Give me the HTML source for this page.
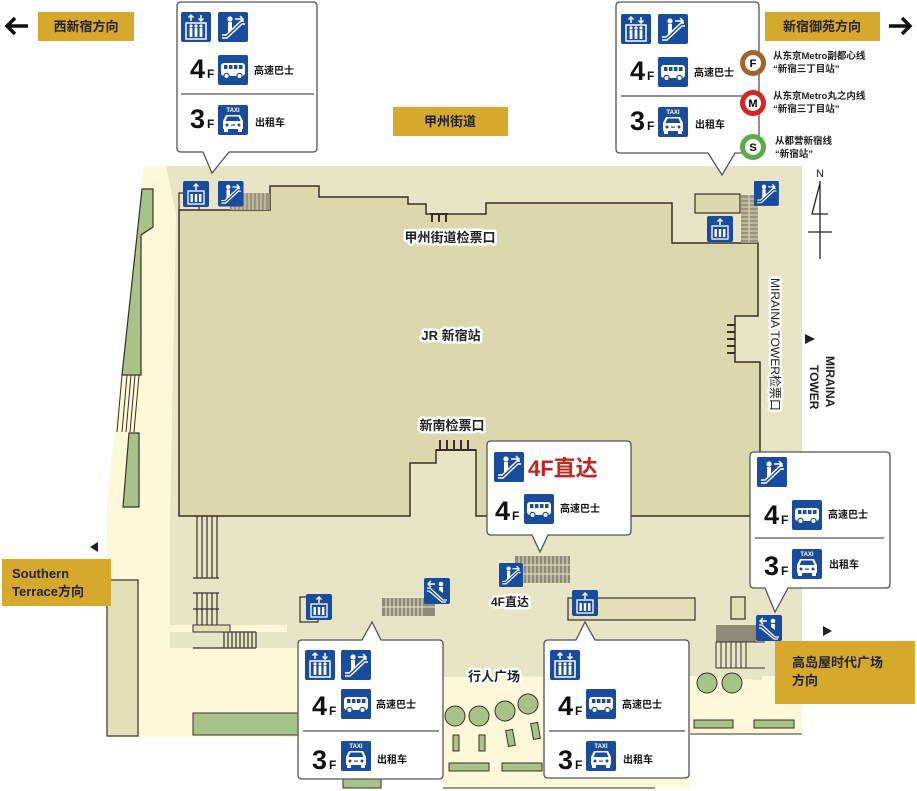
<!DOCTYPE html>
<html><head><meta charset="utf-8"><style>
html,body{margin:0;padding:0;background:#fff;width:917px;height:791px;overflow:hidden}
svg{display:block}
text{font-family:"Liberation Sans","Noto Sans CJK SC",sans-serif}
.b{font-weight:bold}
.halo{paint-order:stroke;stroke:#fff;stroke-width:5px;stroke-linejoin:round;font-weight:bold}
</style></head><body>
<svg width="917" height="791" viewBox="0 0 917 791" xmlns="http://www.w3.org/2000/svg">
<defs>
<g id="elev">
<rect x="0" y="0" width="30" height="30" rx="2" fill="#1a4c9e"/>
<rect x="5" y="11" width="20" height="16" fill="none" stroke="#fff" stroke-width="1.5"/>
<g fill="#fff"><circle cx="10" cy="14" r="1.6"/><circle cx="15" cy="14" r="1.6"/><circle cx="20" cy="14" r="1.6"/>
<rect x="8.6" y="16" width="2.8" height="9"/><rect x="13.6" y="16" width="2.8" height="9"/><rect x="18.6" y="16" width="2.8" height="9"/></g>
<path d="M10 9V3M7.5 5.5L10 3L12.5 5.5M20 3V9M17.5 6.5L20 9L22.5 6.5" stroke="#fff" stroke-width="1.5" fill="none"/>
</g>
<g id="elevup">
<rect x="0" y="0" width="26" height="26" rx="2" fill="#1a4c9e"/>
<rect x="5" y="10" width="16" height="13" fill="none" stroke="#fff" stroke-width="1.3"/>
<g fill="#fff"><rect x="7.5" y="13" width="2.4" height="8"/><rect x="11.8" y="13" width="2.4" height="8"/><rect x="16" y="13" width="2.4" height="8"/></g>
<path d="M13 9V3M10.5 5.5L13 3L15.5 5.5" stroke="#fff" stroke-width="1.4" fill="none"/>
</g>
<g id="esc">
<rect x="0" y="0" width="30" height="30" rx="2" fill="#1a4c9e"/>
<circle cx="12" cy="7" r="2.6" fill="#fff"/>
<path d="M10 10h4v7l-4 4z" fill="#fff"/>
<path d="M4 26h5l15-14h3M4 23h4l15-14h3" stroke="#fff" stroke-width="1.4" fill="none"/>
<path d="M17 7h8M22 4l3 3-3 3" stroke="#fff" stroke-width="1.5" fill="none"/>
</g>
<g id="escl">
<rect x="0" y="0" width="26" height="26" rx="2" fill="#1a4c9e"/>
<circle cx="17" cy="6" r="2.3" fill="#fff"/>
<path d="M15 9h4v6l-4-3z" fill="#fff"/>
<path d="M3 10h3l13 12h4M3 13h2l13 11h4" stroke="#fff" stroke-width="1.3" fill="none"/>
<path d="M11 6h-7M7 3l-3 3 3 3" stroke="#fff" stroke-width="1.4" fill="none"/>
</g>
<g id="bus">
<rect x="0" y="0" width="30" height="30" rx="2" fill="#1a4c9e"/>
<rect x="3" y="8" width="24" height="13" rx="3" fill="#fff"/>
<g fill="#1a4c9e"><rect x="6" y="10" width="3.5" height="4"/><rect x="11" y="10" width="3.5" height="4"/><rect x="16" y="10" width="3.5" height="4"/><rect x="21" y="10" width="3.5" height="4"/></g>
<circle cx="8.5" cy="21" r="2.6" fill="#fff" stroke="#1a4c9e" stroke-width="1.2"/><circle cx="21.5" cy="21" r="2.6" fill="#fff" stroke="#1a4c9e" stroke-width="1.2"/>
</g>
<g id="taxi">
<rect x="0" y="0" width="30" height="30" rx="2" fill="#1a4c9e"/>
<text x="15" y="7" font-size="6" fill="#fff" text-anchor="middle" class="b">TAXI</text>
<path d="M8 10h14l3 6v8H5v-8z" fill="#fff"/>
<path d="M9.5 11.5h11l2 4.5h-15z" fill="#1a4c9e"/>
<circle cx="9" cy="20" r="1.5" fill="#1a4c9e"/><circle cx="21" cy="20" r="1.5" fill="#1a4c9e"/>
<rect x="13" y="19.5" width="4" height="1.2" fill="#1a4c9e"/>
<rect x="6" y="24" width="4" height="3" fill="#fff"/><rect x="20" y="24" width="4" height="3" fill="#fff"/>
</g>
<g id="rows">
<text x="13" y="76" font-size="27" class="b" fill="#111">4</text><text x="30" y="76" font-size="12" class="b" fill="#111">F</text>
<use href="#bus" x="41" y="53"/>
<text x="77" y="72" font-size="10" class="b" fill="#111">高速巴士</text>
<line x1="4" y1="92" x2="137" y2="92" stroke="#555" stroke-width="1.2"/>
<text x="13" y="126" font-size="27" class="b" fill="#111">3</text><text x="30" y="126" font-size="12" class="b" fill="#111">F</text>
<use href="#taxi" x="41" y="103"/>
<text x="78" y="124" font-size="10" class="b" fill="#111">出租车</text>
</g>
</defs>

<polygon points="144,166 802,166 802,734 690,734 690,788 443,788 443,737 107,737 107,500" fill="#fdf9d8"/>
<polygon points="166,166 802,166 802,676 762,676 762,680 690,676 443,677 300,677 300,648 170,648 170,520 176,215" fill="#e8e4c6"/>
<rect x="170" y="625" width="117" height="7" fill="#fdf9d8"/>

<polygon points="179,210 270,210 270,186 319,186 319,197 408,197 408,204 426,204 426,214 486,214 486,203 672,203 672,243 758,243 758,316 735,316 735,362 760,362 760,516 476,516 476,450 436,450 436,463 410,463 410,516 179,516" fill="#dcd8ad" stroke="#3a3028" stroke-width="1.5"/>
<line x1="436" y1="450" x2="476" y2="450" stroke="#3a3028" stroke-width="2"/>
<g stroke="#3a3028" stroke-width="2"><line x1="430" y1="214" x2="448" y2="214"/><line x1="432" y1="214" x2="432" y2="222"/><line x1="439" y1="214" x2="439" y2="222"/><line x1="446" y1="214" x2="446" y2="222"/>
<line x1="440" y1="440" x2="440" y2="450"/><line x1="447" y1="440" x2="447" y2="450"/><line x1="454" y1="440" x2="454" y2="450"/><line x1="461" y1="440" x2="461" y2="450"/><line x1="468" y1="440" x2="468" y2="450"/>
<line x1="727" y1="325" x2="735" y2="325"/><line x1="727" y1="332" x2="735" y2="332"/><line x1="727" y1="339" x2="735" y2="339"/><line x1="727" y1="346" x2="735" y2="346"/><line x1="727" y1="353" x2="735" y2="353"/></g>

<rect x="230" y="193" width="40" height="17" fill="#9a9480"/>
<g stroke="#dcd8ad" stroke-width="1">
<line x1="233" y1="193" x2="233" y2="210"/><line x1="237" y1="193" x2="237" y2="210"/><line x1="241" y1="193" x2="241" y2="210"/><line x1="245" y1="193" x2="245" y2="210"/><line x1="249" y1="193" x2="249" y2="210"/><line x1="253" y1="193" x2="253" y2="210"/><line x1="257" y1="193" x2="257" y2="210"/><line x1="261" y1="193" x2="261" y2="210"/><line x1="265" y1="193" x2="265" y2="210"/></g>
<path d="M179 210V193h10M199 205v5" stroke="#3a3028" fill="none" stroke-width="1.2"/>
<use href="#elevup" x="183" y="181"/>
<use href="#esc" transform="translate(218 181) scale(0.85)"/>

<rect x="695" y="194" width="45" height="19" fill="#dcd8ad" stroke="#3a3028" stroke-width="1.2"/>
<rect x="741" y="195" width="17" height="48" fill="#9a9480"/>
<g stroke="#dcd8ad" stroke-width="1"><line x1="741" y1="199" x2="758" y2="199"/><line x1="741" y1="203" x2="758" y2="203"/><line x1="741" y1="207" x2="758" y2="207"/><line x1="741" y1="211" x2="758" y2="211"/><line x1="741" y1="215" x2="758" y2="215"/><line x1="741" y1="219" x2="758" y2="219"/><line x1="741" y1="223" x2="758" y2="223"/><line x1="741" y1="227" x2="758" y2="227"/><line x1="741" y1="231" x2="758" y2="231"/><line x1="741" y1="235" x2="758" y2="235"/><line x1="741" y1="239" x2="758" y2="239"/><line x1="749" y1="195" x2="749" y2="243"/></g>
<use href="#elevup" x="707" y="216"/>
<use href="#esc" transform="translate(754 181) scale(0.83)"/>

<polygon points="142,189 153,189 153,227 141,235 141,375 122,375" fill="#a8c38a" stroke="#3a3028" stroke-width="1.2"/>
<g stroke="#3a3028" stroke-width="1"><line x1="122" y1="375" x2="117" y2="432"/><line x1="127" y1="375" x2="122" y2="432"/><line x1="131" y1="375" x2="126" y2="432"/><line x1="135" y1="375" x2="130" y2="432"/><line x1="139" y1="375" x2="134" y2="432"/></g>
<polygon points="129,433 139,433 139,507 123,507" fill="#a8c38a" stroke="#3a3028" stroke-width="1.2"/>
<rect x="107" y="580" width="31" height="156" fill="#e3dfb9" stroke="#3a3028" stroke-width="1.2"/>

<g stroke="#3a3028" stroke-width="1.2">
<line x1="197" y1="516" x2="197" y2="578"/><line x1="202" y1="516" x2="202" y2="578"/><line x1="207" y1="516" x2="207" y2="578"/><line x1="212" y1="516" x2="212" y2="578"/><line x1="217" y1="516" x2="217" y2="578"/><line x1="193" y1="578" x2="219" y2="578"/>
<line x1="193" y1="593" x2="219" y2="593"/><line x1="193" y1="609" x2="219" y2="609"/>
<line x1="197" y1="593" x2="197" y2="625"/><line x1="202" y1="593" x2="202" y2="625"/><line x1="207" y1="593" x2="207" y2="625"/><line x1="212" y1="593" x2="212" y2="625"/><line x1="217" y1="593" x2="217" y2="625"/>
<line x1="193" y1="648" x2="256" y2="648"/>
<line x1="224" y1="632" x2="224" y2="648"/><line x1="228" y1="632" x2="228" y2="648"/><line x1="232" y1="632" x2="232" y2="648"/><line x1="236" y1="632" x2="236" y2="648"/><line x1="240" y1="632" x2="240" y2="648"/><line x1="244" y1="632" x2="244" y2="648"/><line x1="248" y1="632" x2="248" y2="648"/><line x1="252" y1="632" x2="252" y2="648"/><line x1="256" y1="632" x2="256" y2="648"/><line x1="222" y1="632" x2="256" y2="632"/></g>
<rect x="193" y="625" width="37" height="7" fill="#e3dfb9" stroke="#3a3028"/>
<path d="M306 597h-6v25h18v-5" stroke="#3a3028" fill="none" stroke-width="1.2"/>
<use href="#elevup" x="306" y="594"/>
<rect x="382" y="598" width="53" height="18" fill="#8f8a78"/>
<g stroke="#e8e4c6" stroke-width="1"><line x1="386" y1="598" x2="386" y2="616"/><line x1="390" y1="598" x2="390" y2="616"/><line x1="394" y1="598" x2="394" y2="616"/><line x1="398" y1="598" x2="398" y2="616"/><line x1="402" y1="598" x2="402" y2="616"/><line x1="406" y1="598" x2="406" y2="616"/><line x1="410" y1="598" x2="410" y2="616"/><line x1="414" y1="598" x2="414" y2="616"/><line x1="418" y1="598" x2="418" y2="616"/><line x1="422" y1="598" x2="422" y2="616"/><line x1="382" y1="607" x2="435" y2="607"/></g>
<use href="#escl" x="424" y="578"/>

<rect x="515" y="556" width="55" height="27" fill="#8f8a78"/>
<g stroke="#e8e4c6" stroke-width="1"><line x1="519" y1="556" x2="519" y2="583"/><line x1="523" y1="556" x2="523" y2="583"/><line x1="527" y1="556" x2="527" y2="583"/><line x1="531" y1="556" x2="531" y2="583"/><line x1="535" y1="556" x2="535" y2="583"/><line x1="539" y1="556" x2="539" y2="583"/><line x1="543" y1="556" x2="543" y2="583"/><line x1="547" y1="556" x2="547" y2="583"/><line x1="551" y1="556" x2="551" y2="583"/><line x1="555" y1="556" x2="555" y2="583"/><line x1="559" y1="556" x2="559" y2="583"/><line x1="563" y1="556" x2="563" y2="583"/><line x1="567" y1="556" x2="567" y2="583"/><line x1="515" y1="565" x2="570" y2="565"/><line x1="515" y1="574" x2="570" y2="574"/></g>
<use href="#esc" transform="translate(499 563) scale(0.8)"/>
<text x="510" y="606" font-size="12" text-anchor="middle" class="halo" fill="#222">4F直达</text>

<rect x="568" y="598" width="127" height="22" fill="#e3dfb9" stroke="#3a3028" stroke-width="1.2"/>
<use href="#elevup" x="572" y="590"/>
<rect x="731" y="597" width="14" height="22" fill="#e3dfb9" stroke="#3a3028" stroke-width="1.2"/>
<rect x="716" y="625" width="40" height="17" fill="#8f8a78"/>
<g stroke="#3a3028" stroke-width="1"><line x1="716" y1="642" x2="716" y2="668"/><line x1="721" y1="642" x2="721" y2="668"/><line x1="726" y1="642" x2="726" y2="668"/><line x1="731" y1="642" x2="731" y2="668"/><line x1="736" y1="642" x2="736" y2="668"/><line x1="741" y1="642" x2="741" y2="668"/><line x1="746" y1="642" x2="746" y2="668"/><line x1="716" y1="668" x2="765" y2="668"/><line x1="716" y1="642" x2="765" y2="642"/></g>
<use href="#escl" x="756" y="615"/>

<g fill="#a8c38a" stroke="#3a3028" stroke-width="1">
<rect x="193" y="713" width="106" height="22"/>
<circle cx="455" cy="716" r="10"/><circle cx="479" cy="716" r="10"/><circle cx="505" cy="711" r="10"/><circle cx="528" cy="704" r="10"/>
<circle cx="707" cy="683" r="10"/><circle cx="732" cy="683" r="10"/>
<rect x="453" y="735" width="6" height="16"/><rect x="479" y="735" width="6" height="16"/>
<rect x="507" y="730" width="7" height="16" transform="rotate(-10 510 738)"/><rect x="532" y="723" width="7" height="16" transform="rotate(-10 535 731)"/>
<rect x="449" y="763" width="40" height="8"/><rect x="502" y="763" width="40" height="8"/>
<rect x="343" y="779" width="38" height="9"/>
<rect x="694" y="720" width="39" height="8"/><rect x="754" y="720" width="40" height="8"/>
</g>
<line x1="690" y1="734" x2="802" y2="734" stroke="#3a3028"/>
<line x1="443" y1="788" x2="655" y2="788" stroke="#3a3028"/>
<text x="494" y="681" font-size="13" text-anchor="middle" class="halo" fill="#222">行人广场</text>

<text x="450" y="242" font-size="13" text-anchor="middle" class="halo" fill="#222">甲州街道检票口</text>
<text x="451" y="340" font-size="13" text-anchor="middle" class="halo" fill="#222">JR 新宿站</text>
<text x="452" y="430" font-size="13" text-anchor="middle" class="halo" fill="#222">新南检票口</text>
<text x="771" y="278" font-size="12" class="halo" style="font-weight:normal" fill="#222" transform="rotate(90 771 278)">MIRAINA TOWER检票口</text>
<text x="826" y="356" font-size="12" class="b" fill="#222" transform="rotate(90 826 356)">MIRAINA</text>
<text x="810" y="365" font-size="12" class="b" fill="#222" transform="rotate(90 810 365)">TOWER</text>
<path d="M805 334l10 5-10 5z" fill="#222"/>
<path d="M98 542l-8 5 8 5z" fill="#222"/>
<path d="M823 626l9 5-9 5z" fill="#222"/>

<text x="820" y="177" font-size="11" text-anchor="middle" fill="#222">N</text>
<path d="M820 181V259M820 183L812 214H828M808 232H832" stroke="#222" stroke-width="1.3" fill="none"/>

<rect x="38" y="12" width="96" height="29" fill="#d6a92c"/>
<text x="86" y="31" font-size="13" class="b" text-anchor="middle" fill="#222">西新宿方向</text>
<path d="M28 26H8M15 18L7 26L15 34" stroke="#111" stroke-width="3.5" fill="none"/>
<rect x="765" y="12" width="115" height="29" fill="#d6a92c"/>
<text x="822" y="31" font-size="13" class="b" text-anchor="middle" fill="#222">新宿御苑方向</text>
<path d="M889 26H909M902 18L910 26L902 34" stroke="#111" stroke-width="3.5" fill="none"/>
<rect x="393" y="107" width="115" height="29" fill="#d6a92c"/>
<text x="450" y="126" font-size="13" class="b" text-anchor="middle" fill="#222">甲州街道</text>
<rect x="2" y="559" width="109" height="47" fill="#d6a92c"/>
<text x="12" y="578" font-size="13" class="b" fill="#222">Southern</text>
<text x="12" y="596" font-size="13" class="b" fill="#222">Terrace方向</text>
<rect x="775" y="641" width="140" height="63" fill="#d6a92c"/>
<text x="792" y="667" font-size="13" class="b" fill="#222">高岛屋时代广场</text>
<text x="792" y="685" font-size="13" class="b" fill="#222">方向</text>

<path d="M181 2H313Q317 2 317 6V148Q317 152 313 152H229L212 173L203 152H181Q177 152 177 148V6Q177 2 181 2Z" fill="#fff" stroke="#555" stroke-width="1.3"/>
<g transform="translate(177 2)"><use href="#elev" x="4" y="10"/><use href="#esc" x="41" y="10"/><use href="#rows"/></g>

<path d="M620 2H755Q759 2 759 6V149Q759 153 755 153H735L722 175L708 153H620Q616 153 616 149V6Q616 2 620 2Z" fill="#fff" stroke="#555" stroke-width="1.3"/>
<g transform="translate(617 4)"><use href="#elev" x="4" y="10"/><use href="#esc" x="41" y="10"/><use href="#rows"/></g>

<g>
<circle cx="753" cy="63" r="13" fill="#a5622c"/><circle cx="753" cy="63" r="8" fill="#fff"/><text x="753" y="67" font-size="11" class="b" text-anchor="middle">F</text>
<circle cx="753" cy="103" r="13" fill="#d3261f"/><circle cx="753" cy="103" r="8" fill="#fff"/><text x="753" y="107" font-size="11" class="b" text-anchor="middle">M</text>
<circle cx="753" cy="147" r="13" fill="#5aac4a"/><circle cx="753" cy="147" r="8" fill="#fff"/><text x="753" y="151" font-size="11" class="b" text-anchor="middle">S</text>
<g font-size="9.5" class="b" fill="#222">
<text x="773" y="59">从东京Metro副都心线</text><text x="773" y="72">“新宿三丁目站”</text>
<text x="773" y="99">从东京Metro丸之内线</text><text x="773" y="112">“新宿三丁目站”</text>
<text x="775" y="144">从都营新宿线</text><text x="775" y="157">“新宿站”</text></g>
</g>

<path d="M491 441H627Q631 441 631 445V531Q631 535 627 535H548L540 552L532 535H491Q487 535 487 531V445Q487 441 491 441Z" fill="#fff" stroke="#555" stroke-width="1.3"/>
<use href="#esc" x="494" y="452"/>
<text x="528" y="476" font-size="22" class="b" fill="#c8241c">4F直达</text>
<text x="495" y="520" font-size="27" class="b" fill="#111">4</text><text x="512" y="520" font-size="12" class="b" fill="#111">F</text>
<use href="#bus" x="524" y="494"/>
<text x="560" y="512" font-size="10" class="b" fill="#111">高速巴士</text>

<path d="M754 452H886Q890 452 890 456V584Q890 588 886 588H788L775 612L765 588H754Q750 588 750 584V456Q750 452 754 452Z" fill="#fff" stroke="#555" stroke-width="1.3"/>
<g transform="translate(751 452)"><use href="#esc" x="6" y="5"/>
<text x="13" y="72" font-size="27" class="b" fill="#111">4</text><text x="30" y="72" font-size="12" class="b" fill="#111">F</text>
<use href="#bus" x="41" y="48"/><text x="77" y="66" font-size="10" class="b" fill="#111">高速巴士</text>
<line x1="4" y1="86" x2="133" y2="86" stroke="#555" stroke-width="1.2"/>
<text x="13" y="123" font-size="27" class="b" fill="#111">3</text><text x="30" y="123" font-size="12" class="b" fill="#111">F</text>
<use href="#taxi" x="41" y="97"/><text x="78" y="116" font-size="10" class="b" fill="#111">出租车</text></g>

<path d="M302 640H362L372 622L381 640H439Q443 640 443 644V775Q443 779 439 779H302Q298 779 298 775V644Q298 640 302 640Z" fill="#fff" stroke="#555" stroke-width="1.3"/>
<g transform="translate(299 638)"><use href="#elev" x="6" y="12"/><use href="#esc" x="42" y="12"/>
<text x="13" y="77" font-size="27" class="b" fill="#111">4</text><text x="30" y="77" font-size="12" class="b" fill="#111">F</text>
<use href="#bus" x="42" y="51"/><text x="77" y="70" font-size="10" class="b" fill="#111">高速巴士</text>
<line x1="4" y1="93" x2="140" y2="93" stroke="#555" stroke-width="1.2"/>
<text x="13" y="131" font-size="27" class="b" fill="#111">3</text><text x="30" y="131" font-size="12" class="b" fill="#111">F</text>
<use href="#taxi" x="42" y="103"/><text x="78" y="125" font-size="10" class="b" fill="#111">出租车</text></g>

<path d="M548 640H576L585 622L595 640H685Q689 640 689 644V774Q689 778 685 778H548Q544 778 544 774V644Q544 640 548 640Z" fill="#fff" stroke="#555" stroke-width="1.3"/>
<g transform="translate(545 638)"><use href="#elev" x="5" y="12"/>
<text x="13" y="77" font-size="27" class="b" fill="#111">4</text><text x="30" y="77" font-size="12" class="b" fill="#111">F</text>
<use href="#bus" x="41" y="51"/><text x="77" y="70" font-size="10" class="b" fill="#111">高速巴士</text>
<line x1="4" y1="93" x2="140" y2="93" stroke="#555" stroke-width="1.2"/>
<text x="13" y="131" font-size="27" class="b" fill="#111">3</text><text x="30" y="131" font-size="12" class="b" fill="#111">F</text>
<use href="#taxi" x="41" y="103"/><text x="78" y="125" font-size="10" class="b" fill="#111">出租车</text></g>
</svg>
</body></html>
